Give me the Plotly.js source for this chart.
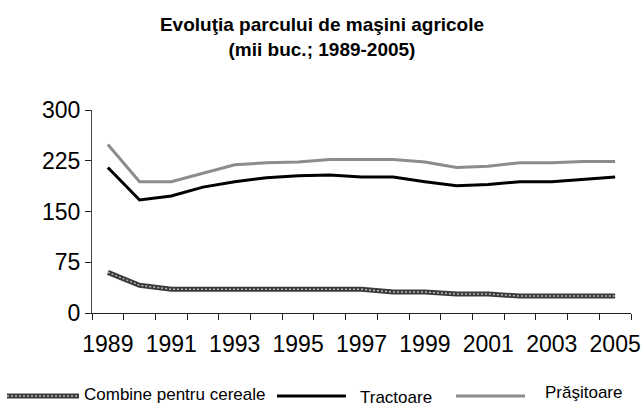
<!DOCTYPE html>
<html>
<head>
<meta charset="utf-8">
<script src="https://cdn.plot.ly/plotly-3.0.1.min.js"></script>
<style>
  body { margin: 0; background: #fff; }
  #chart { width: 644px; height: 410px; }
</style>
</head>
<body>
<div id="chart"></div>
<script>
// ani 1989-2005, mii bucati
let years = [1989, 1990, 1991, 1992, 1993, 1994, 1995, 1996, 1997,
             1998, 1999, 2000, 2001, 2002, 2003, 2004, 2005];
let combine = [60, 41, 35, 35, 35, 35, 35, 35, 35, 31, 31, 28, 28, 25, 25, 25, 25];
let tractoare = [215, 167, 173, 186, 194, 200, 203, 204, 201, 201, 194, 188, 190, 194, 194, 197, 201];
let prasitoare = [249, 194, 194, 207, 219, 222, 223, 227, 227, 227, 223, 215, 217, 222, 222, 224, 224];
let yTicks = [0, 75, 150, 225, 300];
let seriesNames = ['Combine pentru cereale', 'Tractoare', 'Prăşitoare'];

let axis_color = "#000000";
let font_family = "Liberation Sans, Arial, sans-serif";

// pixel -> paper
let mL = 92, mR = 13, mT = 110, mB = 97;
let pw = 644 - mL - mR, ph = 410 - mT - mB;
function px(x) { return (x - mL) / pw; }
function py(y) { return (410 - mB - y) / ph; }

let trace = [];
trace[0] = {
  x: years, y: combine,
  mode: 'lines', type: 'scatter',
  name: seriesNames[0],
  line: { color: '#3a3a3a', width: 5 }
};
// punctele deschise din linia hasurata
trace[1] = {
  x: years, y: combine,
  mode: 'lines', type: 'scatter',
  showlegend: false, hoverinfo: 'skip',
  line: { color: '#b8b8b8', width: 1.5, dash: '2px,2px' }
};
trace[2] = {
  x: years, y: tractoare,
  mode: 'lines', type: 'scatter',
  name: seriesNames[1],
  line: { color: '#000000', width: 3 }
};
trace[3] = {
  x: years, y: prasitoare,
  mode: 'lines', type: 'scatter',
  name: seriesNames[2],
  line: { color: '#8c8c8c', width: 3 }
};

// legenda desenata de mana, ca in original
let legendY = 396;
let shapes = [
  { type: 'line', xref: 'paper', yref: 'paper', x0: px(7), x1: px(79), y0: py(legendY), y1: py(legendY),
    line: { color: '#3a3a3a', width: 5 } },
  { type: 'line', xref: 'paper', yref: 'paper', x0: px(7), x1: px(79), y0: py(legendY), y1: py(legendY),
    line: { color: '#b8b8b8', width: 1.5, dash: '2px,2px' } },
  { type: 'line', xref: 'paper', yref: 'paper', x0: px(277), x1: px(346), y0: py(legendY), y1: py(legendY),
    line: { color: '#000000', width: 3 } },
  { type: 'line', xref: 'paper', yref: 'paper', x0: px(456), x1: px(525), y0: py(legendY), y1: py(legendY),
    line: { color: '#8c8c8c', width: 3 } }
];
let legendTextX = [82, 358, 543];
let legendTextY = [394, 397, 392];
let annotations = seriesNames.map(function (n, i) {
  return {
    text: n, xref: 'paper', yref: 'paper',
    x: px(legendTextX[i]), y: py(legendTextY[i]),
    xanchor: 'left', yanchor: 'middle', showarrow: false,
    font: { family: font_family, size: 17, color: axis_color }
  };
});

var layout = {
  width: 644,
  height: 410,
  margin: { l: mL, r: mR, t: mT, b: mB },
  showlegend: false,
  title: {
    text: '<b>Evoluţia parcului de maşini agricole</b><br><b>(mii buc.; 1989-2005)</b>',
    xref: 'paper',
    x: px(322),
    xanchor: 'center',
    yref: 'container',
    y: 1 - 31 / 410,
    yanchor: 'middle',
    font: { family: font_family, size: 19, color: axis_color }
  },
  xaxis: {
    range: [1988.5, 2005.5],
    tickmode: 'linear',
    tick0: 1989,
    dtick: 2,
    ticks: 'outside',
    ticklen: 10,
    tickcolor: 'rgba(0,0,0,0)',
    showgrid: false,
    zeroline: false,
    showline: true,
    linecolor: '#222',
    linewidth: 1,
    tickfont: { family: font_family, size: 23, color: axis_color },
    minor: {
      tick0: 1988.5,
      dtick: 1,
      ticks: 'outside',
      ticklen: 6,
      tickcolor: '#222',
      showgrid: false
    }
  },
  yaxis: {
    range: [0, 300],
    tickvals: yTicks,
    ticks: 'outside',
    ticklen: 6,
    tickcolor: '#222',
    showgrid: false,
    zeroline: false,
    showline: true,
    linecolor: '#444',
    linewidth: 1,
    tickfont: { family: font_family, size: 23, color: axis_color }
  },
  shapes: shapes,
  annotations: annotations,
  plot_bgcolor: '#ffffff',
  paper_bgcolor: '#ffffff',
  font: { family: font_family, size: 12, color: axis_color }
};

Plotly.newPlot('chart', trace, layout, { displayModeBar: false, staticPlot: true });
</script>
</body>
</html>
